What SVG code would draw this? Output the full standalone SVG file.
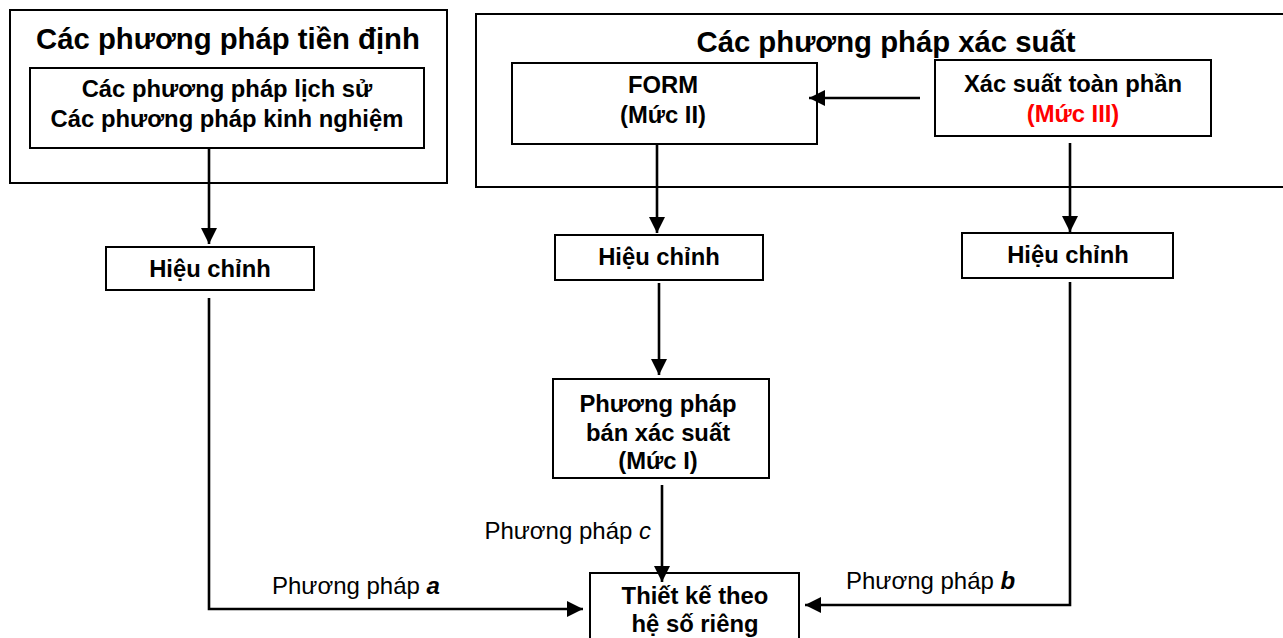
<svg xmlns="http://www.w3.org/2000/svg" width="1283" height="638" viewBox="0 0 1283 638">
  <style>
    .box { fill: #ffffff; stroke: #000000; stroke-width: 2; }
    .frame { fill: none; stroke: #000000; stroke-width: 2; }
    .wire { fill: none; stroke: #000000; stroke-width: 2.6; }
    .title { font-family: "Liberation Sans", Arial, sans-serif; font-weight: bold; font-size: 29.3px; fill: #000; text-anchor: middle; }
    .lbl { font-family: "Liberation Sans", Arial, sans-serif; font-weight: bold; font-size: 23.8px; fill: #000; text-anchor: middle; }
    .note { font-family: "Liberation Sans", Arial, sans-serif; font-size: 24px; fill: #000; }
    .red { fill: #ff0000; }
  </style>
  <defs>
    <marker id="arrow" viewBox="0 0 16 16" refX="16" refY="8" markerWidth="16" markerHeight="16" markerUnits="userSpaceOnUse" orient="auto">
      <path d="M0,0 L16,8 L0,16 Z" fill="#000"/>
    </marker>
  </defs>

  <rect width="1283" height="638" fill="#ffffff"/>

  <!-- deterministic methods -->
  <g id="deterministic">
    <rect class="frame" x="10" y="10" width="437" height="173"/>
    <text class="title" x="228" y="49">Các phương pháp tiền định</text>
  </g>
  <g id="historical">
    <rect class="box" x="30" y="68" width="394" height="80"/>
    <text class="lbl" x="227" y="97">Các phương pháp lịch sử</text>
    <text class="lbl" x="227" y="127">Các phương pháp kinh nghiệm</text>
  </g>

  <!-- probabilistic methods -->
  <g id="probabilistic">
    <rect class="frame" x="476" y="14" width="820" height="173"/>
    <text class="title" x="886" y="52">Các phương pháp xác suất</text>
  </g>
  <g id="form">
    <rect class="box" x="512" y="63" width="305" height="81"/>
    <text class="lbl" x="663" y="93">FORM</text>
    <text class="lbl" x="663" y="123">(Mức II)</text>
  </g>
  <g id="full-probability">
    <rect class="box" x="935" y="60" width="276" height="76"/>
    <text class="lbl" x="1073" y="92">Xác suất toàn phần</text>
    <text class="lbl red" x="1073" y="122">(Mức III)</text>
  </g>

  <!-- calibration boxes -->
  <g id="calib-a">
    <rect class="box" x="106" y="247" width="208" height="43"/>
    <text class="lbl" x="210" y="277">Hiệu chỉnh</text>
  </g>
  <g id="calib-c">
    <rect class="box" x="555" y="235" width="208" height="45"/>
    <text class="lbl" x="659" y="265">Hiệu chỉnh</text>
  </g>
  <g id="calib-b">
    <rect class="box" x="962" y="233" width="211" height="45"/>
    <text class="lbl" x="1068" y="263">Hiệu chỉnh</text>
  </g>

  <g id="semi-probabilistic">
    <rect class="box" x="553" y="379" width="216" height="99"/>
    <text class="lbl" x="658" y="412">Phương pháp</text>
    <text class="lbl" x="658" y="441">bán xác suất</text>
    <text class="lbl" x="658" y="469">(Mức I)</text>
  </g>

  <g id="design">
    <rect class="box" x="590" y="573" width="209" height="75"/>
    <text class="lbl" x="695" y="604">Thiết kế theo</text>
    <text class="lbl" x="695" y="632">hệ số riêng</text>
  </g>

  <!-- connectors -->
  <g id="connectors">
    <line class="wire" x1="920" y1="98" x2="809" y2="98" marker-end="url(#arrow)"/>
    <line class="wire" x1="209" y1="148" x2="209" y2="244" marker-end="url(#arrow)"/>
    <line class="wire" x1="657" y1="144" x2="657" y2="233" marker-end="url(#arrow)"/>
    <line class="wire" x1="1070" y1="143" x2="1070" y2="232" marker-end="url(#arrow)"/>
    <line class="wire" x1="659" y1="283" x2="659" y2="375" marker-end="url(#arrow)"/>
    <line class="wire" x1="662" y1="485" x2="662" y2="582" marker-end="url(#arrow)"/>
    <polyline class="wire" points="209,298 209,609 583,609" marker-end="url(#arrow)"/>
    <polyline class="wire" points="1070,282 1070,605 805,605" marker-end="url(#arrow)"/>
  </g>

  <g id="labels">
    <text class="note" x="272" y="594">Phương pháp <tspan font-weight="bold" font-style="italic">a</tspan></text>
    <text class="note" x="651" y="539" text-anchor="end">Phương pháp <tspan font-style="italic">c</tspan></text>
    <text class="note" x="846" y="589">Phương pháp <tspan font-weight="bold" font-style="italic">b</tspan></text>
  </g>
</svg>
